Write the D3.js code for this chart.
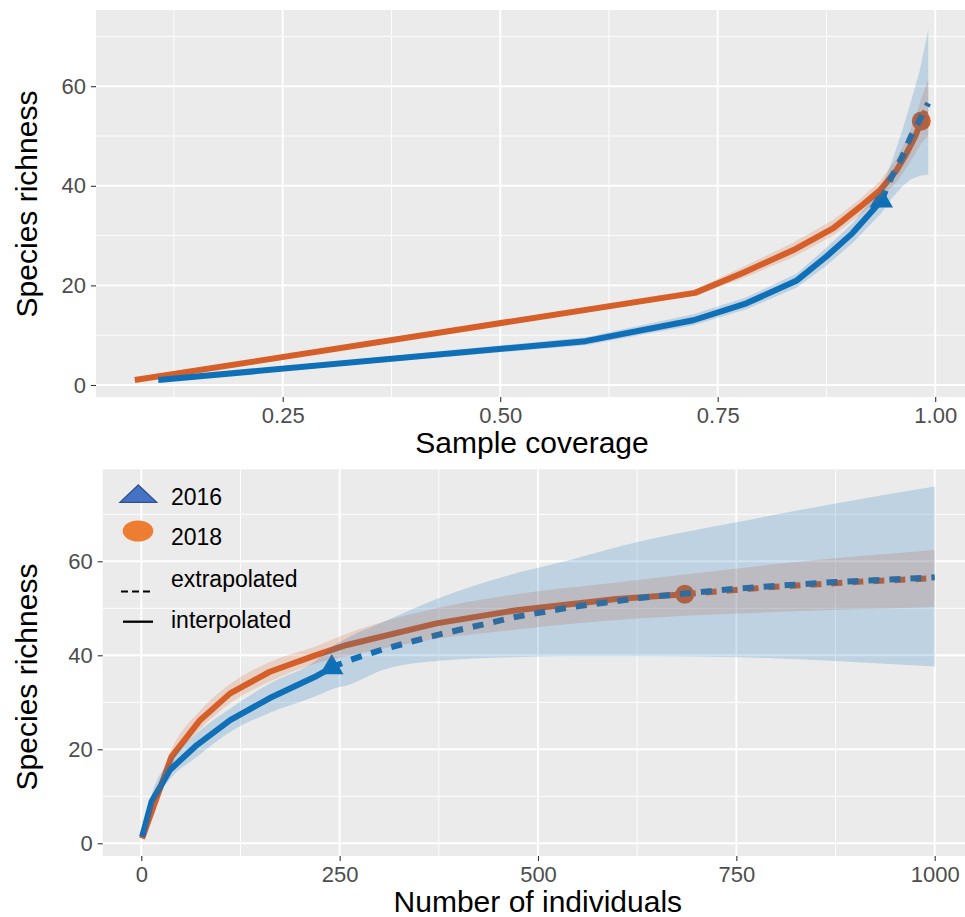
<!DOCTYPE html>
<html>
<head>
<meta charset="utf-8">
<script src="https://cdn.jsdelivr.net/npm/d3@7"></script>
<style>
  body { margin: 0; background: #fff; }
  svg { display: block; }
</style>
</head>
<body>
<svg id="chart" width="965" height="917"></svg>
<script>
// ---- data: top panel, sample coverage vs species richness ----
const cov2016Int  = [0.107, 0.598, 0.722, 0.783, 0.841, 0.875, 0.905, 0.938];
const rich2016Int = [1, 8.8, 13, 16.4, 21, 25.8, 30.5, 37];
const lo2016Int   = [0.7, 8, 12, 15.2, 19.6, 24, 28.5, 34.5];
const hi2016Int   = [1.3, 9.6, 14.2, 17.6, 22.4, 27.6, 32.5, 39.5];
const cov2016Ext  = [0.938, 0.950, 0.962, 0.971, 0.982, 0.992];
const rich2016Ext = [37, 41.8, 45.8, 49.5, 53.2, 56.6];
const lo2016Ext   = [34.5, 37.5, 39.8, 41.2, 42, 42.2];
const hi2016Ext   = [39.5, 44.8, 51, 56.2, 63, 71.3];

const cov2018Int  = [0.080, 0.724, 0.78, 0.837, 0.883, 0.914, 0.937, 0.956, 0.967, 0.977, 0.984];
const rich2018Int = [1, 18.5, 22.6, 27.1, 31.5, 35.8, 39.2, 43.2, 46.5, 49.9, 53];
const lo2018Int   = [0.8, 18, 21.5, 25.7, 30, 34.2, 37.4, 40.8, 43.6, 46.5, 48.5];
const hi2018Int   = [1.2, 19.2, 23.8, 28.6, 33.2, 37.4, 41, 45.6, 49.4, 53.4, 57.5];
const cov2018Ext  = [0.984, 0.988, 0.992];
const rich2018Ext = [53, 54.8, 56.4];
const lo2018Ext   = [48.5, 49.3, 50];
const hi2018Ext   = [57.5, 59.5, 61.3];

// ---- data: bottom panel, number of individuals vs species richness ----
const n2016Int   = [1, 13, 36, 70, 112, 162, 221, 240];
const s2016Int   = [1.4, 8.9, 15.6, 20.9, 26.2, 30.9, 35.6, 37.4];
const sLo2016Int = [1, 7.5, 13.6, 18.4, 23.7, 27.8, 31.4, 32.8];
const sHi2016Int = [1.8, 10.3, 17.6, 23.4, 28.7, 34, 39, 41.8];
const n2016Ext   = [240, 263, 305, 372, 473, 540, 628, 750, 875, 1000];
const s2016Ext   = [37.4, 39, 41.3, 44.3, 48.2, 50.2, 52.2, 54.2, 55.6, 56.6];
const sLo2016Ext = [32.8, 33.8, 36.9, 38.8, 39.6, 39.8, 39.8, 39.6, 38.8, 37.6];
const sHi2016Ext = [41.8, 44, 47.1, 52, 57.5, 60.3, 64.2, 68.3, 72.3, 75.9];

const n2018Int   = [1, 38, 74, 112, 162, 221, 259, 372, 473, 599, 685];
const s2018Int   = [1, 18.4, 26.2, 31.9, 36.5, 40.1, 42.2, 46.8, 49.6, 52, 53];
const sLo2018Int = [0.6, 16.8, 24.2, 29.8, 34.4, 38.3, 39.8, 43.5, 45.5, 47.5, 48.4];
const sHi2018Int = [1.4, 20, 28.2, 33.9, 38.6, 42, 44.6, 50, 53, 55.5, 57.2];
const n2018Ext   = [685, 800, 900, 1000];
const s2018Ext   = [53, 54.6, 55.6, 56.4];
const sLo2018Ext = [48.4, 49.2, 49.8, 50.3];
const sHi2018Ext = [57.2, 59.4, 61, 62.4];

// ticks + legend
const xTicksTop = [0.25, 0.50, 0.75, 1.00];
const xMinorTop = [0.125, 0.375, 0.625, 0.875];
const xTicksBottom = [0, 250, 500, 750, 1000];
const xMinorBottom = [125, 375, 625, 875];
const yTicks = [0, 20, 40, 60];
const yMinor = [10, 30, 50, 70];
const yearLabels = ["2016", "2018"];
const methodLabels = ["extrapolated", "interpolated"];

const BLUE = "#0f70b7";
const ORANGE = "#d6602a";
const FONT = "'Liberation Sans', Arial, Helvetica, sans-serif";

const svg = d3.select("#chart");

const zip = (xs, ys) => xs.map((v, i) => [v, ys[i]]);
const zip3 = (xs, lo, hi) => xs.map((v, i) => [v, lo[i], hi[i]]);

function panel(opt) {
  const x = d3.scaleLinear().domain(opt.xDom).range(opt.xRng);
  const y = d3.scaleLinear().domain([0, 60]).range(opt.yRng);

  svg.append("clipPath").attr("id", opt.id)
    .append("rect")
      .attr("x", opt.left).attr("y", opt.top)
      .attr("width", opt.right - opt.left).attr("height", opt.bottom - opt.top);

  const g = svg.append("g");
  g.append("rect")
    .attr("x", opt.left).attr("y", opt.top)
    .attr("width", opt.right - opt.left).attr("height", opt.bottom - opt.top)
    .attr("fill", "#ebebeb");

  const grid = g.append("g").attr("clip-path", `url(#${opt.id})`);
  grid.selectAll(".vmin").data(opt.xMinor).join("line")
    .attr("x1", d => x(d)).attr("x2", d => x(d))
    .attr("y1", opt.top).attr("y2", opt.bottom)
    .attr("stroke", "#fff").attr("stroke-width", 0.9);
  grid.selectAll(".hmin").data(yMinor).join("line")
    .attr("y1", d => y(d)).attr("y2", d => y(d))
    .attr("x1", opt.left).attr("x2", opt.right)
    .attr("stroke", "#fff").attr("stroke-width", 0.9);
  grid.selectAll(".vmaj").data(opt.xTicks).join("line")
    .attr("x1", d => x(d)).attr("x2", d => x(d))
    .attr("y1", opt.top).attr("y2", opt.bottom)
    .attr("stroke", "#fff").attr("stroke-width", 1.9);
  grid.selectAll(".hmaj").data(yTicks).join("line")
    .attr("y1", d => y(d)).attr("y2", d => y(d))
    .attr("x1", opt.left).attr("x2", opt.right)
    .attr("stroke", "#fff").attr("stroke-width", 1.9);

  // axes
  const xAxis = svg.append("g")
    .attr("transform", `translate(0,${opt.bottom})`)
    .call(d3.axisBottom(x).tickValues(opt.xTicks).tickFormat(opt.fmt).tickSize(5).tickPadding(5));
  const yAxis = svg.append("g")
    .attr("transform", `translate(${opt.left},0)`)
    .call(d3.axisLeft(y).tickValues(yTicks).tickSize(5).tickPadding(5));
  [xAxis, yAxis].forEach(a => {
    a.select(".domain").remove();
    a.selectAll("line").attr("stroke", "#333").attr("stroke-width", 1.1);
    a.selectAll("text").attr("fill", "#4d4d4d").style("font-size", "22px").style("font-family", FONT);
  });

  svg.append("text")
    .attr("x", (opt.left + opt.right) / 2).attr("y", opt.xTitleY)
    .attr("text-anchor", "middle")
    .style("font-family", FONT).style("font-size", "30px").attr("fill", "#000")
    .text(opt.xTitle);
  svg.append("text")
    .attr("transform", `translate(37,${opt.yTitleY}) rotate(-90)`)
    .attr("text-anchor", "middle")
    .style("font-family", FONT).style("font-size", "30px").attr("fill", "#000")
    .text("Species richness");

  const plot = svg.append("g").attr("clip-path", `url(#${opt.id})`);
  return { x, y, plot };
}

function drawPanelContent(p, series, bandCurve) {
  const line = d3.line().x(d => p.x(d[0])).y(d => p.y(d[1]));
  const area = d3.area().x(d => p.x(d[0])).y0(d => p.y(d[1])).y1(d => p.y(d[2])).curve(bandCurve);
  // points first
  series.forEach(s => {
    const last = s.int[s.int.length - 1];
    if (s.shape === "triangle") {
      p.plot.append("path")
        .attr("d", d3.symbol(d3.symbolTriangle, 240)())
        .attr("transform", `translate(${p.x(last[0])},${p.y(last[1])})`)
        .attr("fill", s.color);
    } else {
      p.plot.append("circle")
        .attr("cx", p.x(last[0])).attr("cy", p.y(last[1])).attr("r", 9.5)
        .attr("fill", s.color);
    }
  });
  // lines: orange first, blue on top
  series.slice().reverse().forEach(s => {
    p.plot.append("path").datum(s.int).attr("d", line)
      .attr("fill", "none").attr("stroke", s.color).attr("stroke-width", 6)
      .attr("stroke-linejoin", "round");
    p.plot.append("path").datum(s.ext).attr("d", line)
      .attr("fill", "none").attr("stroke", s.color).attr("stroke-width", 6)
      .attr("stroke-dasharray", "11 10");
  });
  // ribbons over the lines, alpha 0.2 (orange first so the overlap turns grey)
  series.slice().reverse().forEach(s => {
    p.plot.append("path").datum(s.bandInt.concat(s.bandExt.slice(1))).attr("d", area)
      .attr("fill", s.color).attr("fill-opacity", 0.2);
  });
}

// ---- top panel ----
const topPanel = panel({
  id: "clipTop", left: 96, right: 968, top: 10, bottom: 397,
  xDom: [0.25, 1.0], xRng: [282.7, 935.2], yRng: [385, 86.2],
  xTicks: xTicksTop, xMinor: xMinorTop, fmt: d3.format(".2f"),
  xTitle: "Sample coverage", xTitleY: 453, yTitleY: 204
});
drawPanelContent(topPanel, [
  { color: BLUE, shape: "triangle",
    int: zip(cov2016Int, rich2016Int), ext: zip(cov2016Ext, rich2016Ext),
    bandInt: zip3(cov2016Int, lo2016Int, hi2016Int), bandExt: zip3(cov2016Ext, lo2016Ext, hi2016Ext) },
  { color: ORANGE, shape: "circle",
    int: zip(cov2018Int, rich2018Int), ext: zip(cov2018Ext, rich2018Ext),
    bandInt: zip3(cov2018Int, lo2018Int, hi2018Int), bandExt: zip3(cov2018Ext, lo2018Ext, hi2018Ext) }
], d3.curveLinear);

// ---- bottom panel ----
const bottomPanel = panel({
  id: "clipBot", left: 102.7, right: 973, top: 469.3, bottom: 856,
  xDom: [0, 1000], xRng: [141.3, 934.7], yRng: [843.3, 561.3],
  xTicks: xTicksBottom, xMinor: xMinorBottom, fmt: d => d,
  xTitle: "Number of individuals", xTitleY: 912, yTitleY: 677
});
drawPanelContent(bottomPanel, [
  { color: BLUE, shape: "triangle",
    int: zip(n2016Int, s2016Int), ext: zip(n2016Ext, s2016Ext),
    bandInt: zip3(n2016Int, sLo2016Int, sHi2016Int), bandExt: zip3(n2016Ext, sLo2016Ext, sHi2016Ext) },
  { color: ORANGE, shape: "circle",
    int: zip(n2018Int, s2018Int), ext: zip(n2018Ext, s2018Ext),
    bandInt: zip3(n2018Int, sLo2018Int, sHi2018Int), bandExt: zip3(n2018Ext, sLo2018Ext, sHi2018Ext) }
], d3.curveMonotoneX);

// ---- legend (inside bottom panel) ----
const leg = svg.append("g");
leg.append("path")
  .attr("d", "M138.3,485 L156.7,502.3 L120,502.3 Z")
  .attr("fill", "#4472c4").attr("stroke", "#2f528f").attr("stroke-width", 1.3);
leg.append("ellipse")
  .attr("cx", 138).attr("cy", 531).attr("rx", 15.3).attr("ry", 10.5)
  .attr("fill", "#ed7d31");
leg.append("line")
  .attr("x1", 121).attr("x2", 150).attr("y1", 591.5).attr("y2", 591.5)
  .attr("stroke", "#000").attr("stroke-width", 2).attr("stroke-dasharray", "7 4");
leg.append("line")
  .attr("x1", 123).attr("x2", 153).attr("y1", 621.7).attr("y2", 621.7)
  .attr("stroke", "#000").attr("stroke-width", 2.3);
const legText = [
  { t: yearLabels[0], y: 505 },
  { t: yearLabels[1], y: 545 },
  { t: methodLabels[0], y: 586.5 },
  { t: methodLabels[1], y: 628 }
];
leg.selectAll("text").data(legText).join("text")
  .attr("x", 171).attr("y", d => d.y)
  .style("font-family", FONT).style("font-size", "23px").attr("fill", "#000")
  .text(d => d.t);
</script>
</body>
</html>
